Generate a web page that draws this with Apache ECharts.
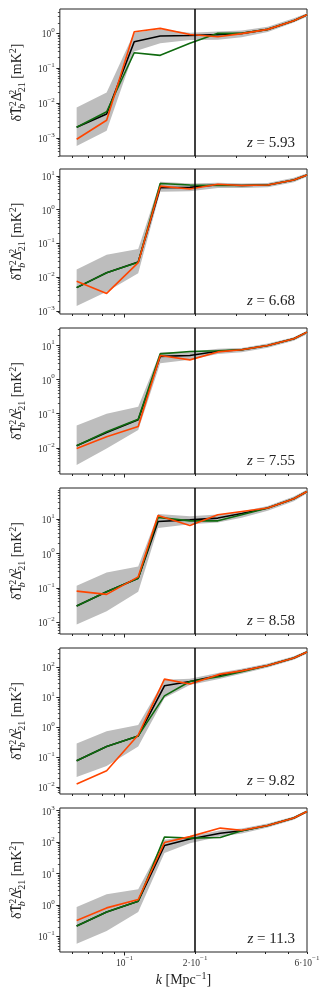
<!DOCTYPE html>
<html>
<head>
<meta charset="utf-8">
<script src="https://cdn.jsdelivr.net/npm/echarts@6/dist/echarts.min.js"></script>
<style>
  html, body { margin: 0; padding: 0; background: #fff; }
  #main { width: 332px; height: 996px; }
</style>
</head>
<body>
<div id="main"></div>
<script>
// redshift labels, one panel each
var redshifts = ['5.93', '6.68', '7.55', '8.58', '9.82', '11.3'];

// k bins [Mpc^-1] per panel
var k_593 = [0.0625, 0.0839, 0.110, 0.142, 0.190, 0.250, 0.316, 0.408, 0.527, 0.600];
var k_668 = [0.0625, 0.0839, 0.1144, 0.142, 0.190, 0.250, 0.316, 0.408, 0.527, 0.600];
var k_755 = [0.0625, 0.0839, 0.1144, 0.142, 0.190, 0.250, 0.316, 0.408, 0.527, 0.600];
var k_858 = [0.0625, 0.0839, 0.1144, 0.139, 0.190, 0.250, 0.316, 0.408, 0.527, 0.600];
var k_982 = [0.0625, 0.0839, 0.1144, 0.148, 0.190, 0.256, 0.316, 0.408, 0.527, 0.600];
var k_113 = [0.0625, 0.0839, 0.1144, 0.148, 0.190, 0.256, 0.316, 0.408, 0.527, 0.600];

// gray band (lower / upper), black, green, orange  [mK^2]
var lo_593 = [5.8e-4, 1.6e-3, 0.30, 0.52, 0.64, 0.65, 0.77, 1.1, 2.05, 3.0];
var hi_593 = [7.4e-3, 0.020, 1.05, 1.3, 1.04, 1.13, 1.2, 1.55, 2.7, 3.8];
var black_593 = [2.0e-3, 4.8e-3, 0.57, 0.84, 0.87, 0.92, 1.0, 1.3, 2.3, 3.4];
var green_593 = [2.0e-3, 5.6e-3, 0.277, 0.233, 0.52, 1.0, 1.0, 1.3, 2.3, 3.4];
var orange_593 = [9.1e-4, 3.2e-3, 1.11, 1.39, 0.93, 0.80, 0.98, 1.3, 2.3, 3.4];

var lo_668 = [1.4e-3, 3.7e-3, 0.013, 3.4, 3.5, 4.4, 4.4, 4.6, 6.5, 9.5];
var hi_668 = [0.017, 0.046, 0.068, 6.8, 6.0, 6.3, 6.0, 6.2, 8.8, 12];
var black_668 = [4.9e-3, 0.0135, 0.028, 4.5, 4.6, 5.5, 5.2, 5.4, 7.6, 10.7];
var green_668 = [4.9e-3, 0.0135, 0.0275, 6.0, 5.4, 5.2, 5.2, 5.4, 7.6, 10.7];
var orange_668 = [7.6e-3, 3.3e-3, 0.027, 5.0, 4.1, 5.7, 5.2, 5.4, 7.6, 10.7];

var lo_755 = [3.1e-3, 9.5e-3, 0.033, 3.0, 3.8, 5.6, 6.3, 8.6, 13.8, 21.5];
var hi_755 = [0.045, 0.10, 0.16, 6.4, 6.5, 8.0, 8.5, 11.5, 17.5, 27];
var black_755 = [0.0114, 0.028, 0.066, 4.8, 5.1, 6.8, 7.5, 10, 15.8, 24.7];
var green_755 = [0.0114, 0.0296, 0.069, 5.7, 6.7, 7.0, 7.5, 10, 15.8, 24.7];
var orange_755 = [9.5e-3, 0.021, 0.042, 5.1, 3.8, 6.5, 7.5, 10, 15.8, 24.7];

var lo_858 = [8.7e-3, 0.021, 0.078, 5.5, 7.1, 8.0, 11, 17.5, 33, 55];
var hi_858 = [0.115, 0.28, 0.42, 14, 12, 13.5, 16.5, 24, 45, 72];
var black_858 = [0.030, 0.078, 0.19, 8.5, 9.5, 10.7, 14.5, 21, 39, 63];
var green_858 = [0.030, 0.078, 0.19, 11.2, 8.9, 8.9, 13.4, 21, 39, 63];
var orange_858 = [0.081, 0.065, 0.21, 12.7, 6.5, 13.4, 16.7, 21, 39, 63];

var lo_982 = [0.022, 0.052, 0.23, 9.5, 26, 42, 62, 100, 180, 290];
var hi_982 = [0.29, 0.75, 1.2, 39, 42, 68, 90, 135, 235, 370];
var black_982 = [0.077, 0.23, 0.52, 24.5, 34, 55, 77, 116, 206, 327];
var green_982 = [0.077, 0.23, 0.52, 11.3, 34, 50, 72, 116, 206, 327];
var orange_982 = [0.013, 0.036, 0.56, 41, 28, 60, 77, 116, 206, 327];

var lo_113 = [0.059, 0.15, 0.6, 45, 92, 150, 190, 290, 520, 870];
var hi_113 = [0.87, 2.2, 3.2, 120, 150, 240, 270, 390, 660, 1050];
var black_113 = [0.214, 0.60, 1.32, 78, 126, 193, 230, 338, 585, 950];
var green_113 = [0.214, 0.60, 1.32, 145, 134, 140, 230, 338, 585, 950];
var orange_113 = [0.32, 0.81, 1.5, 97, 150, 280, 240, 338, 585, 950];

// y ranges per panel
var yMin = [3.0e-4, 8.1e-4, 1.7e-3, 4.6e-3, 6.0e-3, 0.032];
var yMax = [5.0, 16.1, 32.7, 80, 447, 1220];

// x axis
var xMin = 0.053, xMax = 0.6;
var xTicks = [0.06, 0.07, 0.08, 0.09, 0.1, 0.2, 0.3, 0.4, 0.5, 0.6];
var xLabelTicks = [0.1, 0.2, 0.6];
var kLine = 0.2;

var panels = [
  [k_593, lo_593, hi_593, black_593, green_593, orange_593],
  [k_668, lo_668, hi_668, black_668, green_668, orange_668],
  [k_755, lo_755, hi_755, black_755, green_755, orange_755],
  [k_858, lo_858, hi_858, black_858, green_858, orange_858],
  [k_982, lo_982, hi_982, black_982, green_982, orange_982],
  [k_113, lo_113, hi_113, black_113, green_113, orange_113]
];

var FONT = 'Liberation Serif';
var tops = [9, 169, 328, 488, 648, 808];
var heights = [147, 145, 146, 146, 146, 144];

function majorTicks(a, b) {
  var out = [];
  for (var e = Math.ceil(Math.log10(a) - 1e-9); e <= Math.floor(Math.log10(b) + 1e-9); e++) out.push(Math.pow(10, e));
  return out;
}
function minorTicks(a, b) {
  var out = [];
  for (var e = Math.floor(Math.log10(a)); e <= Math.ceil(Math.log10(b)); e++) {
    for (var m = 2; m <= 9; m++) {
      var v = m * Math.pow(10, e);
      if (v > a && v < b) out.push(v);
    }
  }
  return out;
}
function sci(v) {
  var e = Math.floor(Math.log10(v) + 1e-9);
  var m = Math.round(v / Math.pow(10, e));
  var es = e < 0 ? '\u2212' + (-e) : String(e);
  return (m === 1 ? '' : '{b|' + m + '\u00b7}') + '{b|10}{e|' + es + '}';
}
var tickRich = {
  b: { fontFamily: FONT, fontSize: 9.5, color: '#333', lineHeight: 13, verticalAlign: 'bottom' },
  e: { fontFamily: FONT, fontSize: 7, color: '#333', lineHeight: 8, verticalAlign: 'top' }
};
var nameRich = {
  n: { fontFamily: FONT, fontSize: 14, color: '#222', lineHeight: 19, verticalAlign: 'middle' },
  i: { fontFamily: FONT, fontSize: 14, fontStyle: 'italic', color: '#222', lineHeight: 19, verticalAlign: 'middle' },
  sp: { fontFamily: FONT, fontSize: 10, color: '#222', lineHeight: 10, verticalAlign: 'top' },
  sp0: { fontFamily: FONT, fontSize: 10, color: '#222', lineHeight: 10, verticalAlign: 'top', width: 0 },
  sb: { fontFamily: FONT, fontSize: 10, color: '#222', lineHeight: 10, verticalAlign: 'bottom' },
  sbi0: { fontFamily: FONT, fontSize: 10, fontStyle: 'italic', color: '#222', lineHeight: 10, verticalAlign: 'bottom', width: 0 }
};

var grids = [], xAxes = [], yAxes = [], series = [], graphics = [];

panels.forEach(function (p, i) {
  var K = p[0], LO = p[1], HI = p[2];
  var last = i === panels.length - 1;
  grids.push({
    left: 54, width: 253, top: tops[i], height: heights[i],
    show: true, borderColor: '#222', borderWidth: 1, backgroundColor: 'transparent'
  });

  // x: all ticks + labels, then a longer major tick at 0.1
  xAxes.push({
    type: 'log', logBase: 10, gridIndex: i, min: xMin, max: xMax, position: 'bottom',
    axisLine: { show: false }, splitLine: { show: false },
    axisTick: { show: true, length: 2, customValues: xTicks, lineStyle: { color: '#222', width: 1 } },
    axisLabel: { show: last, customValues: xLabelTicks, formatter: sci, rich: tickRich, margin: 3 },
    name: last ? '{i|k}{n| [Mpc}{sp|\u22121}{n|]}' : '',
    nameLocation: 'middle', nameGap: 19,
    nameTextStyle: { fontFamily: FONT, fontSize: 14, color: '#222', rich: nameRich }
  });
  xAxes.push({
    type: 'log', logBase: 10, gridIndex: i, min: xMin, max: xMax, position: 'bottom',
    axisLine: { show: false }, splitLine: { show: false },
    axisTick: { show: true, length: 3.5, customValues: [0.1], lineStyle: { color: '#222', width: 1 } },
    axisLabel: { show: false }
  });

  yAxes.push({
    type: 'log', logBase: 10, gridIndex: i, min: yMin[i], max: yMax[i], position: 'left',
    axisLine: { show: false }, splitLine: { show: false },
    axisTick: { show: true, length: 3.5, customValues: majorTicks(yMin[i], yMax[i]), lineStyle: { color: '#222', width: 1 } },
    axisLabel: { show: true, customValues: majorTicks(yMin[i], yMax[i]), formatter: sci, rich: tickRich, margin: 5 },
    name: '{n|\u03b4T\u0304}{sbi0|b}{sp|2}{n|\u0394}{sp0|2}{sb|21}{n| [mK}{sp|2}{n|]}',
    nameLocation: 'middle', nameGap: 21,
    nameTextStyle: { fontFamily: FONT, fontSize: 14, color: '#222', rich: nameRich }
  });
  yAxes.push({
    type: 'log', logBase: 10, gridIndex: i, min: yMin[i], max: yMax[i], position: 'left',
    axisLine: { show: false }, splitLine: { show: false },
    axisTick: { show: true, length: 2, customValues: minorTicks(yMin[i], yMax[i]), lineStyle: { color: '#222', width: 0.8 } },
    axisLabel: { show: false }
  });

  var xi = 2 * i, yi = 2 * i;
  series.push({
    type: 'custom', xAxisIndex: xi, yAxisIndex: yi, silent: true, clip: true,
    data: K.map(function (k, j) { return [k, LO[j], HI[j]]; }),
    encode: { x: 0, y: [1, 2] },
    renderItem: function (params, api) {
      if (params.dataIndex !== 0) return null;
      var pts = [], j;
      for (j = 0; j < K.length; j++) pts.push(api.coord([K[j], HI[j]]));
      for (j = K.length - 1; j >= 0; j--) pts.push(api.coord([K[j], LO[j]]));
      return { type: 'polygon', shape: { points: pts }, style: { fill: '#bdbdbd' } };
    }
  });
  var colors = ['#000000', '#0f6a0f', '#ff4500'];
  [p[3], p[4], p[5]].forEach(function (vals, s) {
    var ser = {
      type: 'line', xAxisIndex: xi, yAxisIndex: yi, symbol: 'none', silent: true,
      data: K.map(function (k, j) { return [k, vals[j]]; }),
      lineStyle: { color: colors[s], width: 1.6 },
      emphasis: { disabled: true }
    };
    if (s === 2) {
      ser.markLine = {
        silent: true, symbol: ['none', 'none'], label: { show: false },
        lineStyle: { color: '#000', width: 1.5, type: 'solid' },
        data: [{ xAxis: kLine }]
      };
    }
    series.push(ser);
  });

  graphics.push({
    type: 'text', x: 295, y: tops[i] + heights[i] - 13,
    style: {
      text: '{i|z}{n| = ' + redshifts[i] + '}',
      align: 'right', verticalAlign: 'middle',
      rich: {
        i: { fontFamily: FONT, fontSize: 15, fontStyle: 'italic', fill: '#222' },
        n: { fontFamily: FONT, fontSize: 15, fill: '#222' }
      }
    }
  });
});

var chart = echarts.init(document.getElementById('main'), null, { renderer: 'canvas' });
chart.setOption({
  animation: false,
  backgroundColor: '#fff',
  grid: grids,
  xAxis: xAxes,
  yAxis: yAxes,
  series: series,
  graphic: graphics
});
</script>
</body>
</html>
